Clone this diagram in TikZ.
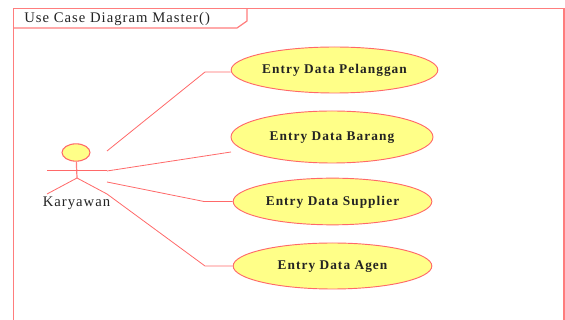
\documentclass[tikz,border=0pt]{standalone}
\usepackage{fontspec}
\setmainfont{Liberation Serif}
\usetikzlibrary{shapes.geometric}

\definecolor{umlline}{RGB}{255,105,105}
\definecolor{umlframe}{RGB}{255,125,125}
\definecolor{umlfill}{RGB}{255,255,136}
\definecolor{umltext}{RGB}{35,35,35}

\tikzset{
  usecase/.style={ellipse,draw=umlline,fill=umlfill,line width=0.7pt,inner sep=0pt,text=umltext,text height=7.2pt,text depth=1.4pt,font=\fontsize{10}{12}\selectfont\bfseries\addfontfeatures{LetterSpace=8}},
  actorhead/.style={ellipse,draw=umlline,fill=umlfill,line width=0.8pt,inner sep=0pt,minimum width=21pt,minimum height=13pt},
  assoc/.style={draw=umlline,line width=0.6pt},
  caption/.style={inner sep=0pt,text=umltext,font=\fontsize{11}{13}\selectfont\addfontfeatures{LetterSpace=7}},
}

\begin{document}
\begin{tikzpicture}[x=0.75pt,y=0.75pt,yscale=-1,xscale=1]
\useasboundingbox (0,0) rectangle (565,320);

%Frame
\draw [color=umlframe,line width=0.9pt] (13.5,320) -- (13.5,8.5) -- (564,8.5) -- (564,320);
\draw [color=umlframe,line width=0.9pt] (13.5,28) -- (237,28) -- (247,21) -- (247,8.5);
% Text Node
\node [caption,anchor=west] (title) at (24,18.5) {Use Case Diagram Master()};

%Use cases
\node [usecase,minimum width=155pt,minimum height=34.5pt] (pelanggan) at (334.5,70) {Entry Data Pelanggan};
\node [usecase,minimum width=151.5pt,minimum height=39pt] (barang) at (332,137) {Entry Data Barang};
\node [usecase,minimum width=149pt,minimum height=35pt] (supplier) at (332.5,201.5) {Entry Data Supplier};
\node [usecase,minimum width=149pt,minimum height=34.5pt] (agen) at (332.5,266) {Entry Data Agen};

%Actor
\node [actorhead] (head) at (76,152.5) {};
\coordinate (hip) at (77,178);
\coordinate (armleft) at (47,170);
\coordinate (armright) at (107,170);
\coordinate (legleft) at (47,194);
\coordinate (legright) at (107,194);
\draw [color=umlframe,line width=0.9pt] (head) -- (hip);
\draw [assoc] (armleft) -- (armright);
\draw [assoc] (legleft) -- (hip) -- (legright);
\node [caption] (karyawan) at (76.5,203) {Karyawan};

%Associations
\coordinate (startone) at (107,151);
\coordinate (starttwo) at (107,171);
\coordinate (startthree) at (107,182);
\coordinate (endtwo) at (231,152);
\draw [assoc] (startone) -- (205,72) -- (pelanggan.west |- 0,72);
\draw [assoc] (starttwo) -- (endtwo);
\draw [assoc] (startthree) -- (204,201.5) -- (supplier.west);
\draw [assoc] (legright) -- (205,266) -- (agen.west);

\end{tikzpicture}
\end{document}
